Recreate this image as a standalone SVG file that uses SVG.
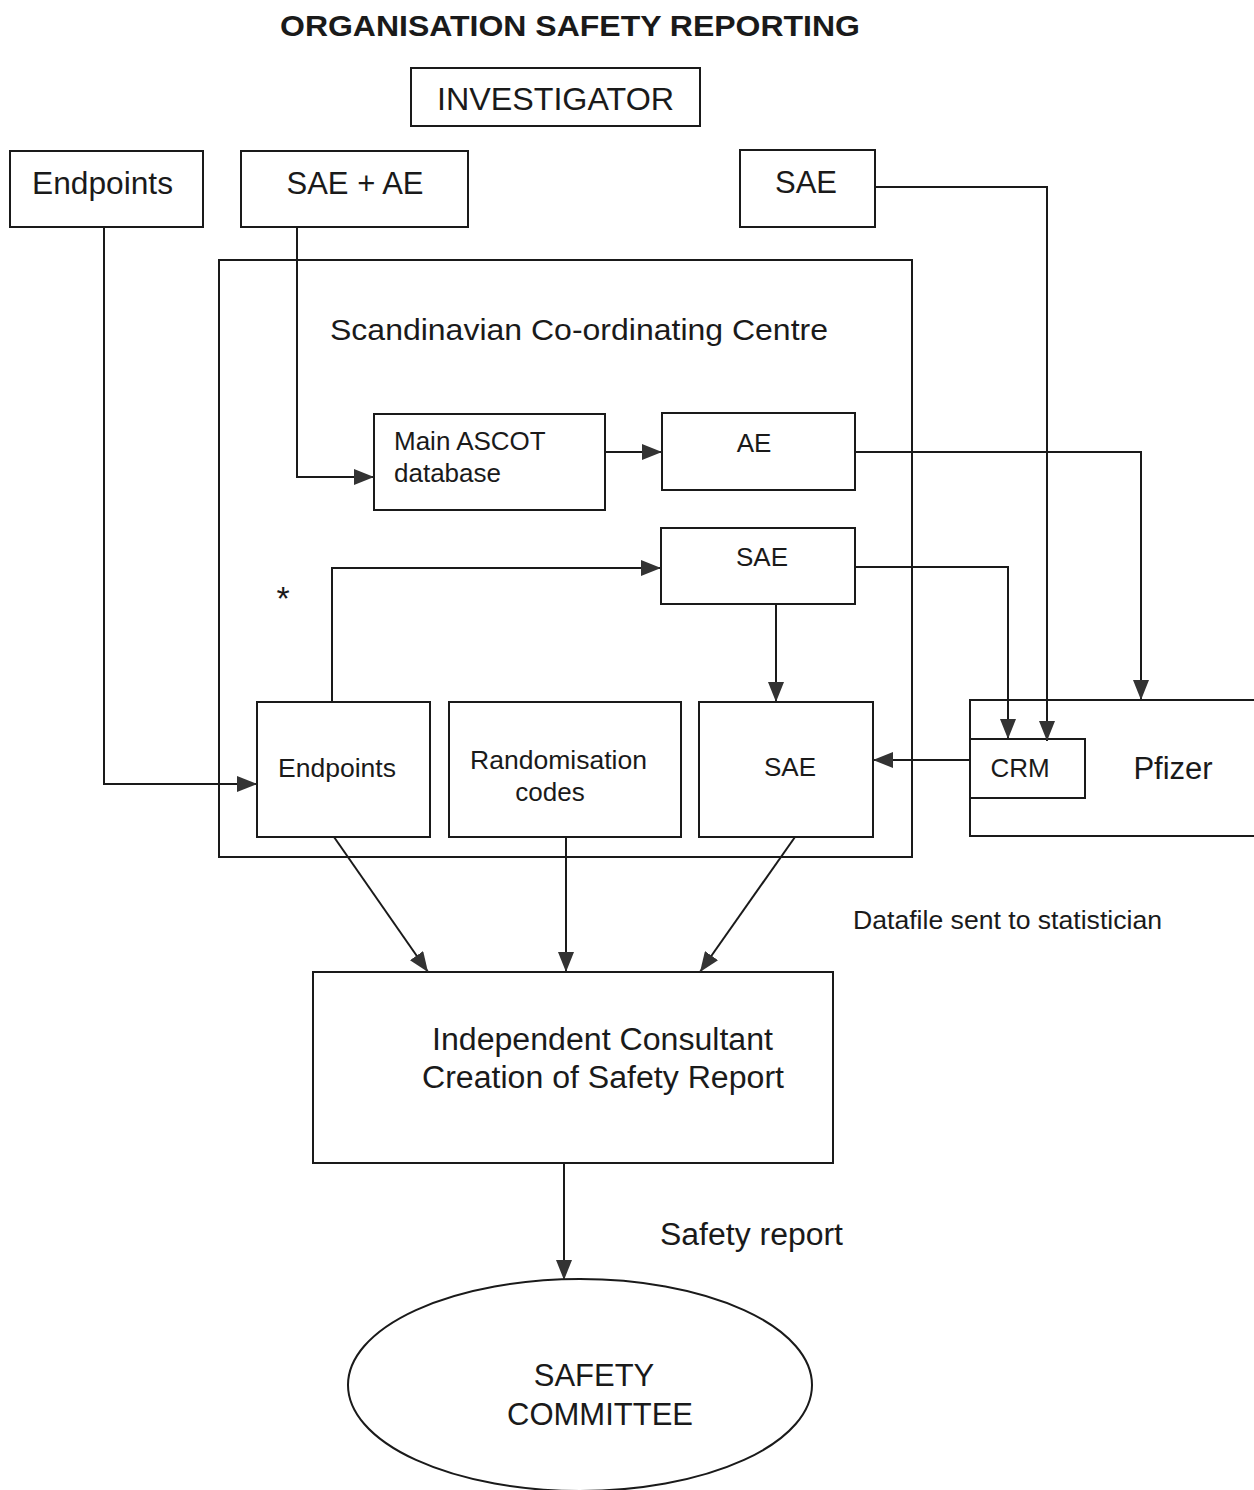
<svg xmlns="http://www.w3.org/2000/svg" width="1254" height="1490" viewBox="0 0 1254 1490">
<style>
text{font-family:"Liberation Sans",Arial,sans-serif;fill:#1a1a1a}
.box{fill:none;stroke:#1a1a1a;stroke-width:2}
.ln{fill:none;stroke:#1a1a1a;stroke-width:2}
.c{text-anchor:middle}
.l{font-size:31px}
.m{font-size:26px}
</style>
<defs>
<marker id="ah" viewBox="0 0 20 16" refX="20" refY="8" markerWidth="20" markerHeight="16" markerUnits="userSpaceOnUse" orient="auto">
<path d="M0,0 L20,8 L0,16 Z" fill="#333"/>
</marker>
</defs>
<rect width="1254" height="1490" fill="#fff"/>
<text x="280" y="36" font-size="30" font-weight="bold" textLength="580" lengthAdjust="spacingAndGlyphs">ORGANISATION SAFETY REPORTING</text>
<g id="investigator"><rect class="box" x="411" y="68" width="289" height="58"/><text x="437" y="110" class="l" textLength="237" lengthAdjust="spacingAndGlyphs">INVESTIGATOR</text></g>
<g id="endpoints-top"><rect class="box" x="10" y="151" width="193" height="76"/><text x="32" y="194" class="l" textLength="141" lengthAdjust="spacingAndGlyphs">Endpoints</text></g>
<g id="sae-ae"><rect class="box" x="241" y="151" width="227" height="76"/><text x="355" y="194" class="c l">SAE + AE</text></g>
<g id="sae-top"><rect class="box" x="740" y="150" width="135" height="77"/><text x="806" y="193" class="c l">SAE</text></g>
<g id="scc"><rect class="box" x="219" y="260" width="693" height="597"/><text x="330" y="340" font-size="30" textLength="498" lengthAdjust="spacingAndGlyphs">Scandinavian Co-ordinating Centre</text></g>
<g id="main-ascot"><rect class="box" x="374" y="414" width="231" height="96"/><text x="394" y="450" class="m">Main ASCOT</text><text x="394" y="482" class="m">database</text></g>
<g id="ae"><rect class="box" x="662" y="413" width="193" height="77"/><text x="754" y="452" class="c m">AE</text></g>
<g id="sae-mid"><rect class="box" x="661" y="528" width="194" height="76"/><text x="762" y="566" class="c m">SAE</text></g>
<text x="283" y="610" class="c" font-size="34">*</text>
<g id="endpoints-inner"><rect class="box" x="257" y="702" width="173" height="135"/><text x="278" y="777" class="m" textLength="118" lengthAdjust="spacingAndGlyphs">Endpoints</text></g>
<g id="randomisation"><rect class="box" x="449" y="702" width="232" height="135"/><text x="470" y="769" class="m" textLength="177" lengthAdjust="spacingAndGlyphs">Randomisation</text><text x="550" y="801" class="c m">codes</text></g>
<g id="sae-bottom"><rect class="box" x="699" y="702" width="174" height="135"/><text x="790" y="776" class="c m">SAE</text></g>
<g id="pfizer"><path class="box" d="M1256,700 H970 V836 H1256"/><text x="1173" y="779" class="c l">Pfizer</text></g>
<g id="crm"><rect class="box" x="970" y="739" width="115" height="59"/><text x="1020" y="777" class="c m">CRM</text></g>
<g id="consultant"><rect class="box" x="313" y="972" width="520" height="191"/><text x="432" y="1050" class="l" textLength="341" lengthAdjust="spacingAndGlyphs">Independent Consultant</text><text x="422" y="1088" class="l" textLength="362" lengthAdjust="spacingAndGlyphs">Creation of Safety Report</text></g>
<g id="safety-committee"><ellipse class="box" cx="580" cy="1385" rx="232" ry="106"/><text x="594" y="1386" class="c l">SAFETY</text><text x="600" y="1425" class="c l">COMMITTEE</text></g>
<text x="853" y="929" font-size="25" textLength="309" lengthAdjust="spacingAndGlyphs">Datafile sent to statistician</text>
<text x="660" y="1245" class="l" textLength="183" lengthAdjust="spacingAndGlyphs">Safety report</text>
<g id="connectors">
<path class="ln" d="M104,227 V784 H257" marker-end="url(#ah)"/>
<path class="ln" d="M297,227 V477 H374" marker-end="url(#ah)"/>
<path class="ln" d="M605,452 H662" marker-end="url(#ah)"/>
<path class="ln" d="M855,452 H1141 V700" marker-end="url(#ah)"/>
<path class="ln" d="M875,187 H1047 V741" marker-end="url(#ah)"/>
<path class="ln" d="M855,567 H1008 V739" marker-end="url(#ah)"/>
<path class="ln" d="M776,604 V702" marker-end="url(#ah)"/>
<path class="ln" d="M332,702 V568 H661" marker-end="url(#ah)"/>
<path class="ln" d="M970,760 H873" marker-end="url(#ah)"/>
<path class="ln" d="M334,837 L428,972" marker-end="url(#ah)"/>
<path class="ln" d="M566,837 V972" marker-end="url(#ah)"/>
<path class="ln" d="M795,837 L700,972" marker-end="url(#ah)"/>
<path class="ln" d="M564,1163 V1280" marker-end="url(#ah)"/>
</g>
</svg>
